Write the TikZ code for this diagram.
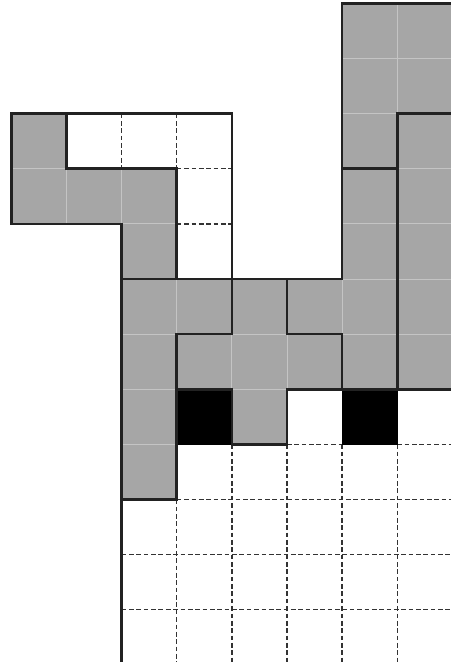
\documentclass[tikz,border=0pt]{standalone}
\definecolor{piecegray}{HTML}{A6A6A6}
\definecolor{cellline}{HTML}{C4C4C4}
\definecolor{edgecol}{HTML}{222222}
\definecolor{dashcol}{HTML}{333333}
\begin{document}
\begin{tikzpicture}[x=1cm,y=1cm,
  cellfill/.style={fill=piecegray,draw=cellline,line width=0.45pt},
  blackcell/.style={fill=black,draw=black,line width=0.4pt},
  outline/.style={draw=edgecol,line width=1.35pt,line join=miter},
  gridline/.style={draw=dashcol,line width=0.7pt,dash pattern=on 2.4pt off 1.4pt}]
\useasboundingbox (-0.2087,0.0635) rectangle (7.976,-11.951);
\fill[white] (-0.2087,0.0635) rectangle (7.976,-11.951);
% gray cells
\foreach \c/\r in {6/0,7/0,6/1,7/1,6/2,
                   7/2,7/3,7/4,7/5,7/6,
                   6/3,6/4,6/5,6/6,5/5,
                   4/5,3/6,4/6,5/6,4/7,
                   2/5,3/5,2/6,2/7,2/8,
                   0/2,0/3,1/3,2/3,2/4}
  \draw[cellfill] (\c,-\r) rectangle ++(1,-1);
% dashed grid in white regions
\draw[gridline] (2,-2) -- (2,-3);
\draw[gridline] (3,-2) -- (3,-3);
\draw[gridline] (3,-3) -- (4,-3);
\draw[gridline] (3,-4) -- (4,-4);
\draw[gridline] (5,-8) -- (8.2,-8);
\draw[gridline] (3,-9) -- (8.2,-9);
\draw[gridline] (2,-10) -- (8.2,-10);
\draw[gridline] (2,-11) -- (8.2,-11);
\foreach \x in {4,5,6,7}
  \draw[gridline] (\x,-8) -- (\x,-12.2);
\draw[gridline] (3,-9) -- (3,-12.2);
% black cells
\draw[blackcell] (3,-7) rectangle (4,-8);
\draw[blackcell] (6,-7) rectangle (7,-8);
% piece outlines
\draw[outline] (6,0) -- (8,0) -- (8,-2) -- (7,-2) -- (7,-3) -- (6,-3) -- cycle;
\draw[outline] (7,-2) -- (8,-2) -- (8,-7) -- (7,-7) -- cycle;
\draw[outline] (6,-3) -- (7,-3) -- (7,-7) -- (6,-7) -- (6,-6) -- (5,-6) -- (5,-5) -- (6,-5) -- cycle;
\draw[outline] (4,-5) -- (5,-5) -- (5,-6) -- (6,-6) -- (6,-7) -- (5,-7) -- (5,-8) -- (4,-8) -- (4,-7) -- (3,-7) -- (3,-6) -- (4,-6) -- cycle;
\draw[outline] (2,-5) -- (4,-5) -- (4,-6) -- (3,-6) -- (3,-9) -- (2,-9) -- cycle;
\draw[outline] (0,-2) -- (1,-2) -- (1,-3) -- (3,-3) -- (3,-5) -- (2,-5) -- (2,-4) -- (0,-4) -- cycle;
\draw[outline] (1,-2) -- (4,-2) -- (4,-5) -- (3,-5) -- (3,-3) -- (1,-3) -- cycle;
\draw[outline] (2,-9) -- (2,-12.2);
\end{tikzpicture}
\end{document}
